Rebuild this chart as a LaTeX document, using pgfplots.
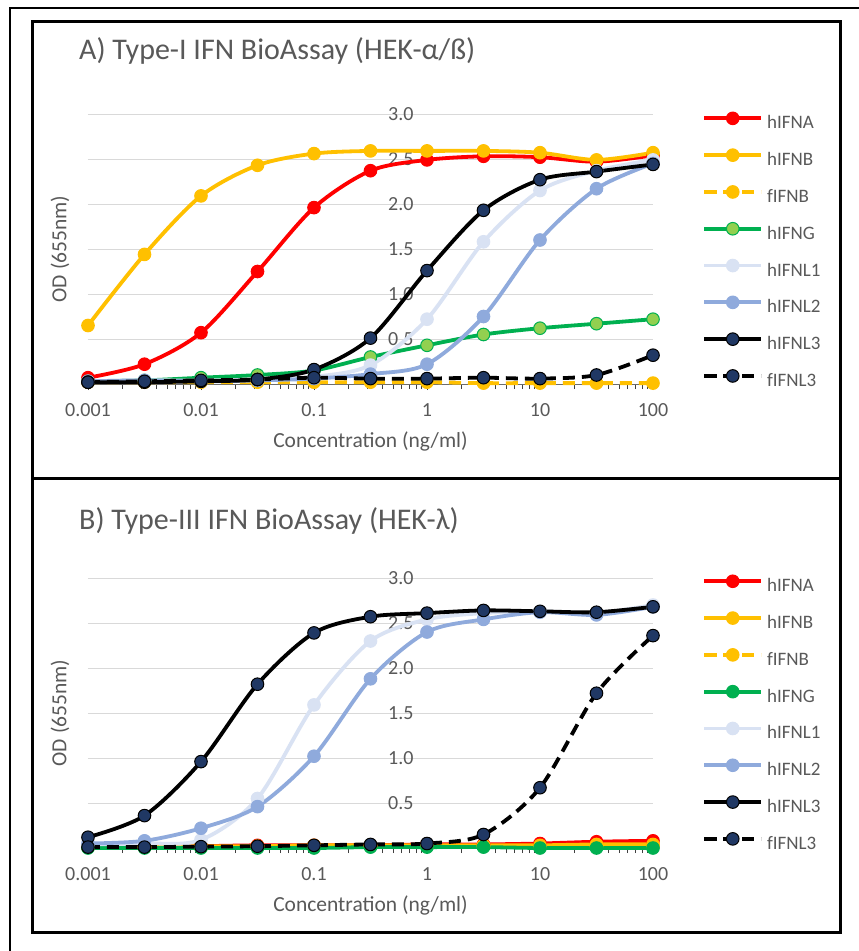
\documentclass[border=0pt]{standalone}
\usepackage{pgfplots}
\pgfplotsset{compat=1.18}
\usepackage{pgfplotstable}
\usepackage{fontspec}
\setmainfont{Carlito}
\definecolor{txt}{HTML}{595959}
\definecolor{cA}{HTML}{FF0000}
\definecolor{cB}{HTML}{FFC000}
\definecolor{cG}{HTML}{00B050}
\definecolor{cGl}{HTML}{92D050}
\definecolor{cLa}{HTML}{D9E2F3}
\definecolor{cLb}{HTML}{8FAADC}
\definecolor{cN}{HTML}{203864}
\definecolor{gridc}{HTML}{D9D9D9}
\newcommand\fA{\fontsize{19bp}{22bp}\selectfont}
\newcommand\fK{\fontsize{20bp}{24bp}\selectfont}
\newcommand\fL{\fontsize{21.5bp}{25bp}\selectfont}
\newcommand\fT{\fontsize{30bp}{36bp}\selectfont}

\pgfplotstableread{
x a b fb g la lb lc fl
0.001   0.07 0.65 0.02 0.03 0.03 0.03 0.02 0.02
0.003162 0.22 1.44 0.02 0.04 0.04 0.04 0.02 0.03
0.01    0.57 2.09 0.02 0.07 0.04 0.03 0.03 0.04
0.03162 1.25 2.43 0.02 0.10 0.05 0.04 0.05 0.05
0.1     1.96 2.56 0.02 0.15 0.08 0.06 0.16 0.07
0.3162  2.37 2.59 0.02 0.30 0.21 0.11 0.51 0.06
1       2.49 2.59 0.02 0.43 0.72 0.22 1.26 0.06
3.162   2.53 2.59 0.01 0.55 1.58 0.75 1.93 0.07
10      2.52 2.57 0.01 0.62 2.15 1.60 2.27 0.06
31.62   2.47 2.49 0.01 0.67 2.37 2.17 2.36 0.10
100     2.54 2.57 0.01 0.72 2.49 2.45 2.44 0.32
}\dataA

\pgfplotstableread{
x a b fb g la lb lc fl
0.001   0.01 0.01 0.01 0.00 0.04 0.05 0.12 0.01
0.003162 0.01 0.01 0.01 0.00 0.05 0.08 0.36 0.01
0.01    0.02 0.02 0.01 0.00 0.09 0.22 0.96 0.015
0.03162 0.03 0.02 0.02 0.00 0.55 0.46 1.82 0.02
0.1     0.03 0.03 0.02 0.00 1.59 1.02 2.39 0.03
0.3162  0.03 0.03 0.02 0.01 2.30 1.88 2.57 0.04
1       0.04 0.03 0.02 0.01 2.54 2.40 2.61 0.05
3.162   0.04 0.03 0.02 0.01 2.61 2.54 2.64 0.15
10      0.05 0.03 0.02 0.00 2.63 2.62 2.63 0.67
31.62   0.07 0.04 0.02 0.00 2.61 2.59 2.62 1.72
100     0.08 0.04 0.02 0.00 2.70 2.68 2.68 2.36
}\dataB

\pgfplotsset{
  ser/.style n args={3}{draw=#1, line width=3.8bp, smooth, mark=*, mark size=6.3bp,
     mark options={solid, fill=#2, draw=#3, line width=1bp}},
  dsh/.style={dash pattern=on 12bp off 7bp},
}
\pgfplotsset{
  every axis/.append style={
    scale only axis, width=565bp, height=270bp,
    xmin=0.001, xmax=100, ymin=0, ymax=3,
    clip=false,
    axis x line*=bottom, axis y line*=middle,
    x axis line style={draw=gridc!50!black, line width=1bp},
    y axis line style={draw=none},
    xtick={0.001,0.01,0.1,1,10,100},
    xticklabels={0.001,0.01,0.1,1,10,100},
    minor xtick={0.002,0.003,0.004,0.005,0.006,0.007,0.008,0.009,
                 0.02,0.03,0.04,0.05,0.06,0.07,0.08,0.09,
                 0.2,0.3,0.4,0.5,0.6,0.7,0.8,0.9,
                 2,3,4,5,6,7,8,9,20,30,40,50,60,70,80,90},
    ytick={0,0.5,1,1.5,2,2.5,3},
    yticklabels={0.0,0.5,1.0,1.5,2.0,2.5,3.0},
    xtick align=outside,
    major tick length=6bp, minor tick length=5bp,
    x tick style={draw=black!75, line width=0.9bp},
    y tick style={draw=none},
    ymajorgrids, major grid style={draw=gridc, line width=1bp},
    tick label style={font=\fK, text=txt},
    xticklabel style={anchor=center, yshift=-20bp},
    yticklabel style={anchor=east, xshift=-10bp},
    label style={font=\fL, text=txt},
    legend cell align=left,
    legend style={draw=none, fill=none, inner sep=0pt, font=\fA, text=txt,
       anchor=north west, row sep=15bp, column sep=3bp,
       nodes={inner sep=1bp, text height=13bp, text depth=4bp}},
  },
  frameax/.style={
    xlabel={Concentration (ng/ml)},
    xlabel style={at={(axis description cs:0.5,0)}, anchor=center, yshift=-57bp},
    ylabel={OD (655nm)},
    ylabel style={at={(axis description cs:-0.0496,0.5)}, anchor=center},
  },
  legend image code/.code={\draw[#1, mark repeat=2, mark phase=2] plot coordinates {(0bp,6bp) (28.5bp,6bp) (57bp,6bp)};},
}

\begin{document}
\begin{tikzpicture}
\useasboundingbox (0,0) rectangle (859bp,-951bp);
\fill[white] (0,0) rectangle (859bp,-951bp);

% Panel A: frame (grid, ticks, labels) first, data on top
\begin{semilogxaxis}[frameax, at={(88bp,-384bp)}, anchor=south west]
\end{semilogxaxis}
\begin{semilogxaxis}[hide axis, at={(88bp,-384bp)}, anchor=south west,
  legend style={at={(axis description cs:1.087,1.008)}}]
\addplot[ser={cA}{cA}{cA}] table[x=x,y=a]{\dataA}; \addlegendentry{hIFNA}
\addplot[ser={cB}{cB}{cB}] table[x=x,y=b]{\dataA}; \addlegendentry{hIFNB}
\addplot[ser={cB}{cB}{cB}, dsh] table[x=x,y=fb]{\dataA}; \addlegendentry{fIFNB}
\addplot[ser={cG}{cGl}{cG}] table[x=x,y=g]{\dataA}; \addlegendentry{hIFNG}
\addplot[ser={cLa}{cLa}{cLa}] table[x=x,y=la]{\dataA}; \addlegendentry{hIFNL1}
\addplot[ser={cLb}{cLb}{cLb}] table[x=x,y=lb]{\dataA}; \addlegendentry{hIFNL2}
\addplot[ser={black}{cN}{black}] table[x=x,y=lc]{\dataA}; \addlegendentry{hIFNL3}
\addplot[ser={black}{cN}{black}, dsh] table[x=x,y=fl]{\dataA}; \addlegendentry{fIFNL3}
\end{semilogxaxis}

% Panel B
\begin{semilogxaxis}[frameax, at={(88bp,-848bp)}, anchor=south west]
\end{semilogxaxis}
\begin{semilogxaxis}[hide axis, at={(88bp,-848bp)}, anchor=south west,
  legend style={at={(axis description cs:1.087,1.012)}}]
\addplot[ser={cA}{cA}{cA}] table[x=x,y=a]{\dataB}; \addlegendentry{hIFNA}
\addplot[ser={cB}{cB}{cB}] table[x=x,y=b]{\dataB}; \addlegendentry{hIFNB}
\addplot[ser={cB}{cB}{cB}, dsh] table[x=x,y=fb]{\dataB}; \addlegendentry{fIFNB}
\addplot[ser={cG}{cG}{cG}] table[x=x,y=g]{\dataB}; \addlegendentry{hIFNG}
\addplot[ser={cLa}{cLa}{cLa}] table[x=x,y=la]{\dataB}; \addlegendentry{hIFNL1}
\addplot[ser={cLb}{cLb}{cLb}] table[x=x,y=lb]{\dataB}; \addlegendentry{hIFNL2}
\addplot[ser={black}{cN}{black}] table[x=x,y=lc]{\dataB}; \addlegendentry{hIFNL3}
\addplot[ser={black}{cN}{black}, dsh] table[x=x,y=fl]{\dataB}; \addlegendentry{fIFNL3}
\end{semilogxaxis}

\node[anchor=west, font=\fT, text=txt, inner sep=0pt] at (79bp,-51bp) {A) Type-I IFN BioAssay (HEK-α/ß)};
\node[anchor=west, font=\fT, text=txt, inner sep=0pt] at (79bp,-521bp) {B) Type-III IFN BioAssay (HEK-λ)};

\draw[line width=1.5bp] (10bp,-960bp) -- (10bp,-8bp) -- (870bp,-8bp);
\draw[line width=3bp] (32bp,-21bp) rectangle (840bp,-932bp);
\draw[line width=3bp] (32bp,-478bp) -- (840bp,-478bp);
\end{tikzpicture}
\end{document}
